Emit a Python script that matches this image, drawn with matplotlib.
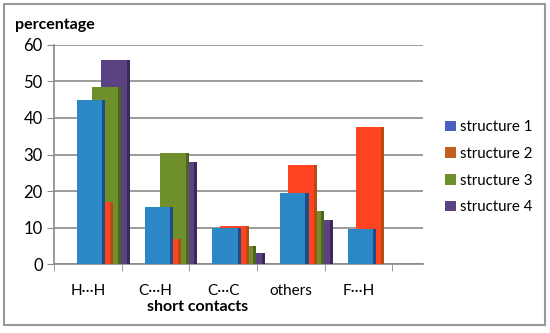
import numpy as np
import matplotlib
matplotlib.use("Agg")
import matplotlib.pyplot as plt
from matplotlib.patches import Patch, Rectangle

categories = ["H\u00b7\u00b7\u00b7H", "C\u00b7\u00b7\u00b7H", "C\u00b7\u00b7\u00b7C", "others", "F\u00b7\u00b7\u00b7H"]
s1 = [45, 15.5, 10, 19.5, 9.5]
s2 = [17, 7, 10.5, 27, 37.5]
s3 = [48.5, 30.5, 5, 14.5, 0]
s4 = [56, 28, 3, 12, 0]
names = ["structure 1", "structure 2", "structure 3", "structure 4"]
yticks = [0, 10, 20, 30, 40, 50, 60]

plt.rcParams['font.family'] = ['Lato', 'DejaVu Sans']

fig = plt.figure(figsize=(5.5, 3.33), dpi=100)
ax = fig.add_axes([0.098, 0.207, 0.671, 0.658])

x = np.arange(len(categories))
# series drawn back to front: purple, green, orange, blue
series = [
    (s4, 0.41, "#5B4383", "#3A2A5A", 1),
    (s3, 0.28, "#6F8E2C", "#4C6520", 2),
    (s2, 0.17, "#FF4422", "#B84A14", 3),
    (s1, 0.05, "#2C87C7", "#1D4F86", 4),
]
w = 0.42
side = 0.045
for vals, off, col, dark, z in series:
    ax.bar(x + off, vals, width=w, color=col, zorder=z + 2, linewidth=0)
    ax.bar(x + off + w / 2 - side / 2, vals, width=side, color=dark, zorder=z + 2.1, linewidth=0)

ax.set_xlim(-0.5, 4.95)
ax.set_ylim(0, 60)
ax.set_yticks(yticks)
ax.yaxis.grid(True, color="#8a8a8a", linewidth=1.2, zorder=0)
ax.set_axisbelow(True)
ax.tick_params(axis='y', labelsize=12, length=5, color="#8a8a8a", pad=3)

ax.set_xticks(x)
ax.set_xticklabels(categories, fontsize=11)
ax.set_xticks(np.arange(-0.5, 5.0, 1.0), minor=True)
ax.tick_params(axis='x', which='major', length=0, pad=14)
ax.tick_params(axis='x', which='minor', length=5, color="#8a8a8a")

for s in ["top", "right"]:
    ax.spines[s].set_visible(False)
ax.spines["left"].set_color("#8a8a8a")
ax.spines["bottom"].set_color("#8a8a8a")
ax.spines["left"].set_linewidth(1.2)
ax.spines["bottom"].set_linewidth(1.2)

fig.text(0.027, 0.925, "percentage", fontsize=11.5, fontweight='bold', va='center')
fig.text(0.36, 0.078, "short contacts", fontsize=11.5, fontweight='bold', ha='center', va='center')

handles = [Patch(facecolor=c) for c in ["#4A5FC0", "#C0601C", "#6F8E2C", "#5B4383"]]
fig.legend(handles, names, loc='upper left', bbox_to_anchor=(0.785, 0.68), frameon=False,
           fontsize=10.8, handlelength=0.7, handleheight=0.7, handletextpad=0.3, labelspacing=0.85)

fig.patches.append(Rectangle((0.007, 0.024), 0.984, 0.964, transform=fig.transFigure,
                             fill=False, edgecolor="#999999", linewidth=1.5))

fig.savefig("out.png", dpi=100)
